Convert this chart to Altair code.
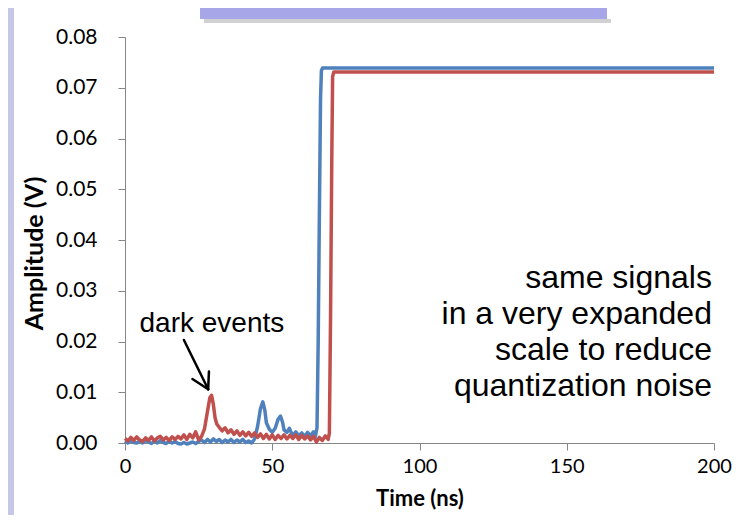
import altair as alt
import pandas as pd

# ---------------- data ----------------
series_names = ["Signal A", "Signal B"]
series_colors = ["#4F81BD", "#C0504D"]

blue_t = [0, 1, 2, 3, 4, 5, 6, 7, 8, 9, 10, 11, 12, 13, 14, 15, 16, 17, 18, 19,
          20, 21, 22, 23, 24, 25, 26, 27, 28, 29, 30, 31, 32, 33, 34, 35, 36, 37,
          38, 39, 40, 41, 42, 43, 44, 45, 46, 46.8, 47.5, 48, 49, 50, 51, 52, 52.8,
          53.5, 54, 55, 55.8, 56.5, 57, 58, 59, 60, 61, 62, 63, 64, 64.6, 65.2,
          65.6, 66.0, 66.4, 66.7, 67.1, 200]
blue_v = [0.0004, 0.0000, 0.0005, 0.0001, 0.0000, 0.0004, 0.0000, 0.0005, 0.0002,
          -0.0001, 0.0004, 0.0000, 0.0005, 0.0001, -0.0001, 0.0004, 0.0000, 0.0003,
          -0.0001, -0.0002, 0.0001, -0.0002, 0.0000, 0.0002, -0.0001, 0.0003, 0.0006,
          0.0001, 0.0007, 0.0002, 0.0008, 0.0003, 0.0007, 0.0001, 0.0006, 0.0002,
          0.0007, 0.0001, 0.0006, 0.0002, 0.0007, 0.0001, 0.0004, 0.0000, 0.0008,
          0.0032, 0.0068, 0.0081, 0.0064, 0.0040, 0.0027, 0.0021, 0.0029, 0.0047,
          0.0053, 0.0041, 0.0026, 0.0021, 0.0029, 0.0020, 0.0015, 0.0022, 0.0014,
          0.0020, 0.0013, 0.0021, 0.0014, 0.0022, 0.0012, 0.0030, 0.020, 0.045,
          0.068, 0.0734, 0.0739, 0.0739]

red_t = [0, 1, 2, 3, 4, 5, 6, 7, 8, 9, 10, 11, 12, 13, 14, 15, 16, 17, 18, 19,
         20, 21, 22, 23, 24, 25, 26, 27, 28, 28.8, 29.4, 30.0, 30.6, 31.2, 32, 33,
         34, 35, 36, 37, 38, 39, 40, 41, 42, 43, 44, 45, 46, 47, 48, 49, 50, 51,
         52, 53, 54, 55, 56, 57, 58, 59, 60, 61, 62, 63, 64, 65, 66, 67, 68, 69,
         69.4, 69.8, 70.2, 70.5, 70.9, 200]
red_v = [0.0009, 0.0004, 0.0011, 0.0005, 0.0012, 0.0006, 0.0003, 0.0010, 0.0005,
         0.0012, 0.0004, 0.0010, 0.0013, 0.0006, 0.0011, 0.0005, 0.0012, 0.0007,
         0.0013, 0.0008, 0.0016, 0.0007, 0.0017, 0.0010, 0.0022, 0.0006, 0.0013,
         0.0028, 0.0062, 0.0089, 0.0094, 0.0076, 0.0049, 0.0037, 0.0031, 0.0024,
         0.0030, 0.0020, 0.0026, 0.0017, 0.0024, 0.0015, 0.0022, 0.0014, 0.0021,
         0.0013, 0.0020, 0.0011, 0.0018, 0.0009, 0.0017, 0.0008, 0.0016, 0.0007,
         0.0015, 0.0009, 0.0016, 0.0008, 0.0015, 0.0009, 0.0016, 0.0007, 0.0015,
         0.0008, 0.0014, 0.0006, 0.0013, 0.0002, 0.0011, 0.0005, 0.0014, 0.0007,
         0.0020, 0.025, 0.055, 0.0722, 0.0731, 0.0731]

x_ticks = [0, 50, 100, 150, 200]
y_ticks = [0.00, 0.01, 0.02, 0.03, 0.04, 0.05, 0.06, 0.07, 0.08]

dark_label = ["dark events"]
dark_t = [29.5]
dark_v = [0.0219]

# arrow segments (shaft + two barbs), data units
arrow_t = [20.0, 28.5, 22.9]
arrow_v = [0.0203, 0.0141, 0.0126]
arrow_t2 = [28.24, 28.24, 28.24]
arrow_v2 = [0.0106, 0.0106, 0.0106]

note_lines = ["same signals", "in a very expanded ", "scale to reduce ", "quantization noise"]
note_t = [199.3, 199.3, 199.3, 199.3]
note_v = [0.0306, 0.0235, 0.0164, 0.0093]

# ---------------- tables ----------------
rows = []
for name, ts, vs in [(series_names[0], blue_t, blue_v), (series_names[1], red_t, red_v)]:
    for i, (t, v) in enumerate(zip(ts, vs)):
        rows.append({"series": name, "t": t, "v": v, "i": i})
df = pd.DataFrame(rows)

df_dark = pd.DataFrame({"t": dark_t, "v": dark_v, "label": dark_label})
df_arrow = pd.DataFrame({"t": arrow_t, "v": arrow_v, "t2": arrow_t2, "v2": arrow_v2})
df_note = pd.DataFrame({"t": note_t, "v": note_v, "label": note_lines})
df_one = pd.DataFrame({"k": [0]})

AX = "#868686"
X = alt.X("t:Q", title="Time (ns)",
          scale=alt.Scale(domain=[0, 200], nice=False, zero=False),
          axis=alt.Axis(values=x_ticks, grid=False, domainColor=AX, tickColor=AX,
                        tickSize=7, labelFont="Lato", labelFontSize=20,
                        labelColor="black", labelPadding=6, labelFlush=False,
                        titleFont="Lato", titleFontSize=22, titleFontWeight="bold",
                        titleColor="black", titlePadding=12))
Y = alt.Y("v:Q", title="Amplitude (V)",
          scale=alt.Scale(domain=[0, 0.08], nice=False),
          axis=alt.Axis(values=y_ticks, format=".2f", grid=False, domainColor=AX,
                        tickColor=AX, tickSize=7, labelFont="Lato", labelFontSize=21,
                        labelColor="black", labelPadding=21,
                        titleFont="Lato", titleFontSize=25, titleFontWeight="bold",
                        titleColor="black", titlePadding=8, titleY=216))

# decorations (slide background pieces)
strip = alt.Chart(df_one).mark_rect(color="#c6c6e6").encode(
    x=alt.value(-117), x2=alt.value(-111), y=alt.value(-29), y2=alt.value(480))
shadow = alt.Chart(df_one).mark_rect(color="#9a9a9a", opacity=0.45).encode(
    x=alt.value(79), x2=alt.value(486), y=alt.value(-18), y2=alt.value(-14))
titlebox = alt.Chart(df_one).mark_rect(color="#a6a6e8").encode(
    x=alt.value(75), x2=alt.value(482), y=alt.value(-29), y2=alt.value(-18))

lines = alt.Chart(df).mark_line(strokeWidth=3.5, strokeJoin="round").encode(
    x=X, y=Y,
    color=alt.Color("series:N", scale=alt.Scale(domain=series_names, range=series_colors),
                    legend=None),
    order="i:Q")

arrow = alt.Chart(df_arrow).mark_rule(color="black", strokeWidth=2.5, strokeCap="round").encode(
    x=X, y=Y, x2="t2:Q", y2="v2:Q")

dark = alt.Chart(df_dark).mark_text(font="Liberation Sans", fontSize=28, align="center",
                                    baseline="alphabetic", color="black").encode(
    x=X, y=Y, text="label:N")

note = alt.Chart(df_note).mark_text(font="Liberation Sans", fontSize=32, align="right",
                                    baseline="alphabetic", color="black").encode(
    x=X, y=Y, text="label:N")

chart = alt.layer(strip, shadow, titlebox, lines, arrow, dark, note).properties(
    width=589, height=406,
    padding={"left": 117, "top": 29, "right": 18, "bottom": 72},
    autosize=alt.AutoSizeParams(type="none"),
    background="white",
).configure_view(stroke=None)

chart.save("out.html", embed_options={"renderer": "svg", "actions": False})
